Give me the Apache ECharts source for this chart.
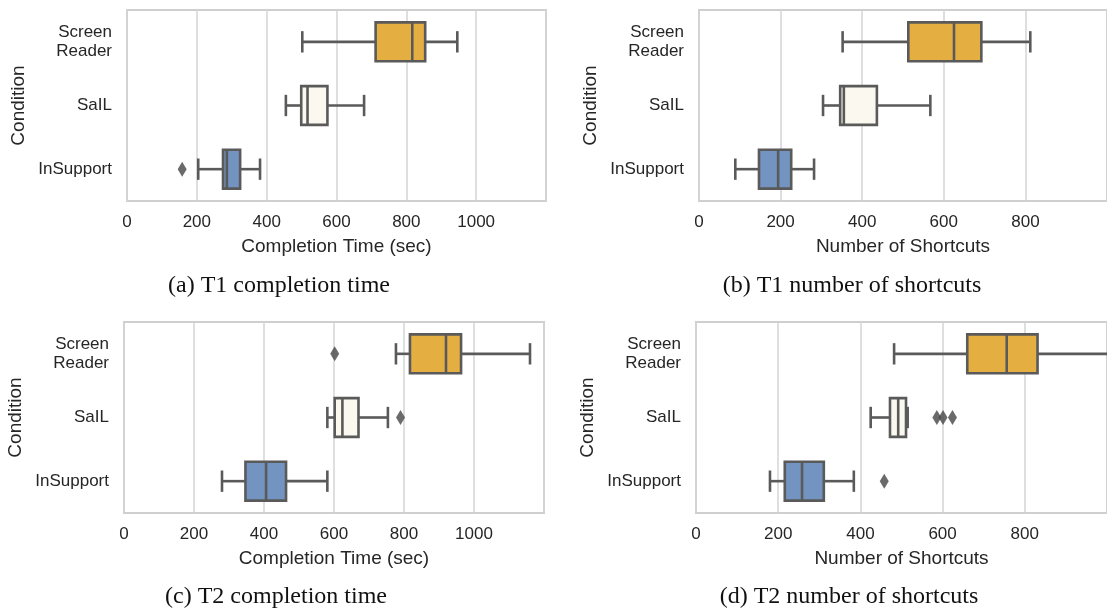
<!DOCTYPE html>
<html><head><meta charset="utf-8">
<script src="https://cdn.jsdelivr.net/npm/echarts@6/dist/echarts.min.js"></script>
<style>html,body{margin:0;padding:0;background:#fff}#c{width:1107px;height:611px}</style>
</head><body><div id="c"></div>
<script>
// ---- data ----
const conditions = ['Screen\nReader', 'SaIL', 'InSupport'];
const timeTicks = [0, 200, 400, 600, 800, 1000];
const shortcutTicks = [0, 200, 400, 600, 800];
// each row: [low whisker, Q1, median, Q3, high whisker] for Screen Reader, SaIL, InSupport
const t1TimeBoxes = [[502, 712, 817, 854, 946], [455, 499, 517, 574, 679], [204, 275, 286, 324, 381]];
const t1TimeOutliers = [[158, 2]];
const t1ShortcutBoxes = [[352, 513, 625, 692, 812], [304, 346, 355, 436, 567], [89, 147, 194, 226, 282]];
const t1ShortcutOutliers = [];
const t2TimeBoxes = [[777, 817, 920, 963, 1160], [581, 602, 624, 670, 754], [280, 347, 406, 463, 581]];
const t2TimeOutliers = [[602, 0], [790, 1]];
const t2ShortcutBoxes = [[482, 660, 756, 831, 1040], [425, 472, 492, 511, 515], [180, 216, 258, 311, 384]];
const t2ShortcutOutliers = [[586, 1], [601, 1], [624, 1], [458, 2]];
const captions = ['(a) T1 completion time', '(b) T1 number of shortcuts', '(c) T2 completion time', '(d) T2 number of shortcuts'];
const xTitles = ['Completion Time (sec)', 'Number of Shortcuts', 'Completion Time (sec)', 'Number of Shortcuts'];
const yTitle = 'Condition';

// ---- styling / layout ----
const SANS = 'Liberation Sans';
const SERIF = 'Liberation Serif';
const TEXT = '#262626';
const LINE = '#5a5a5a';
const fills = ['#e5ae40', '#fbf8ef', '#7393c0'];
const panels = [
  {boxes: t1TimeBoxes, outliers: t1TimeOutliers, ticks: timeTicks, max: 1200, grid: {left: 127, top: 10, width: 419, height: 191}, cap: [279, 286]},
  {boxes: t1ShortcutBoxes, outliers: t1ShortcutOutliers, ticks: shortcutTicks, max: 1000, grid: {left: 699, top: 10, width: 419, height: 191}, cap: [852, 286]},
  {boxes: t2TimeBoxes, outliers: t2TimeOutliers, ticks: timeTicks, max: 1200, grid: {left: 124, top: 322, width: 420, height: 191}, cap: [276, 597]},
  {boxes: t2ShortcutBoxes, outliers: t2ShortcutOutliers, ticks: shortcutTicks, max: 1000, grid: {left: 696, top: 322, width: 419, height: 191}, cap: [849, 597]}
];

function renderBox(params, api) {
  const cat = api.value(5);
  const band = api.size([0, 1])[1];
  const bh = band * 0.61;
  const cap = bh * 0.55;
  const pts = [0, 1, 2, 3, 4].map(i => api.coord([api.value(i), cat]));
  const y = pts[0][1];
  const st = {stroke: LINE, lineWidth: 2.6};
  return {type: 'group', children: [
    {type: 'line', shape: {x1: pts[0][0], y1: y, x2: pts[1][0], y2: y}, style: st},
    {type: 'line', shape: {x1: pts[3][0], y1: y, x2: pts[4][0], y2: y}, style: st},
    {type: 'line', shape: {x1: pts[0][0], y1: y - cap / 2, x2: pts[0][0], y2: y + cap / 2}, style: st},
    {type: 'line', shape: {x1: pts[4][0], y1: y - cap / 2, x2: pts[4][0], y2: y + cap / 2}, style: st},
    {type: 'rect', shape: {x: pts[1][0], y: y - bh / 2, width: pts[3][0] - pts[1][0], height: bh}, style: {fill: fills[cat], stroke: LINE, lineWidth: 2.6}},
    {type: 'line', shape: {x1: pts[2][0], y1: y - bh / 2, x2: pts[2][0], y2: y + bh / 2}, style: st}
  ]};
}

const grids = [], xAxes = [], yAxes = [], series = [], graphics = [];
panels.forEach((p, i) => {
  grids.push(Object.assign({show: true, borderColor: '#cfcfcf', borderWidth: 2, backgroundColor: '#fff', containLabel: false}, p.grid));
  xAxes.push({
    gridIndex: i, type: 'value', min: 0, max: p.max, interval: 200,
    axisLine: {show: false}, axisTick: {show: false},
    axisLabel: {margin: 13, fontSize: 17, color: TEXT, fontFamily: SANS, showMaxLabel: false,
      formatter: v => p.ticks.includes(v) ? String(v) : ''},
    splitLine: {show: true, lineStyle: {color: '#d4d4d4', width: 1.5}},
    name: xTitles[i], nameLocation: 'middle', nameGap: 36,
    nameTextStyle: {fontSize: 19, color: TEXT, fontFamily: SANS}
  });
  yAxes.push({
    gridIndex: i, type: 'category', data: conditions, inverse: true,
    axisLine: {show: false}, axisTick: {show: false}, splitLine: {show: false},
    axisLabel: {margin: 15, fontSize: 17, lineHeight: 19, color: TEXT, fontFamily: SANS},
    name: yTitle, nameLocation: 'middle', nameGap: 99, nameRotate: 90,
    nameTextStyle: {fontSize: 19, color: TEXT, fontFamily: SANS}
  });
  series.push({
    type: 'custom', xAxisIndex: i, yAxisIndex: i, clip: true,
    renderItem: renderBox,
    encode: {x: [0, 1, 2, 3, 4], y: 5},
    data: p.boxes.map((b, k) => b.concat([k])),
    z: 3
  });
  series.push({
    type: 'scatter', xAxisIndex: i, yAxisIndex: i,
    symbol: 'diamond', symbolSize: [9, 15],
    itemStyle: {color: '#454545'},
    data: p.outliers, z: 4
  });
  graphics.push({
    type: 'text', x: p.cap[0], y: p.cap[1],
    style: {text: captions[i], fontFamily: SERIF, fontSize: 24, fill: '#111', textAlign: 'center', textVerticalAlign: 'middle'}
  });
});

const chart = echarts.init(document.getElementById('c'), null, {renderer: 'canvas'});
chart.setOption({
  animation: false,
  backgroundColor: '#fff',
  grid: grids, xAxis: xAxes, yAxis: yAxes, series: series,
  graphic: graphics
});
</script></body></html>
